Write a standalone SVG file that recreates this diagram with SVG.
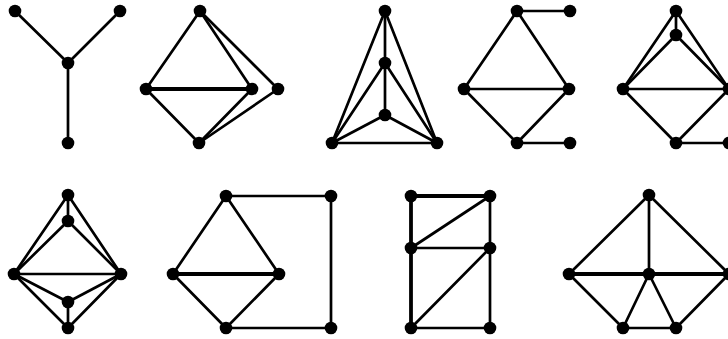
<svg xmlns="http://www.w3.org/2000/svg" width="728" height="339" viewBox="0 0 728 339">
<style>
.e{stroke:#000;stroke-width:2.7;fill:none;stroke-linecap:round}
.t{stroke-width:3.8}
.n circle{fill:#000}
</style>
<rect width="728" height="339" fill="#fff"/>
<g id="connectors">
<!-- g1 -->
<line class="e" x1="15" y1="11" x2="68" y2="63"/>
<line class="e" x1="120" y1="11" x2="68" y2="63"/>
<line class="e" x1="68" y1="63" x2="68" y2="143"/>
<!-- g2 -->
<line class="e" x1="200" y1="11" x2="146" y2="89"/>
<line class="e" x1="200" y1="11" x2="252" y2="89"/>
<line class="e" x1="200" y1="11" x2="278" y2="89"/>
<line class="e t" x1="146" y1="89" x2="252" y2="89"/>
<line class="e" x1="146" y1="89" x2="199" y2="143"/>
<line class="e" x1="252" y1="89" x2="199" y2="143"/>
<line class="e" x1="278" y1="89" x2="199" y2="143"/>
<!-- g3 -->
<line class="e" x1="385" y1="11" x2="332" y2="143"/>
<line class="e" x1="385" y1="11" x2="437" y2="143"/>
<line class="e" x1="385" y1="11" x2="385" y2="63"/>
<line class="e" x1="385" y1="63" x2="385" y2="115"/>
<line class="e" x1="385" y1="63" x2="332" y2="143"/>
<line class="e" x1="385" y1="63" x2="437" y2="143"/>
<line class="e" x1="385" y1="115" x2="332" y2="143"/>
<line class="e" x1="385" y1="115" x2="437" y2="143"/>
<line class="e" x1="332" y1="143" x2="437" y2="143"/>
<!-- g4 -->
<line class="e" x1="517" y1="11" x2="570" y2="11"/>
<line class="e" x1="517" y1="11" x2="464" y2="89"/>
<line class="e" x1="517" y1="11" x2="569" y2="89"/>
<line class="e" x1="464" y1="89" x2="569" y2="89"/>
<line class="e" x1="464" y1="89" x2="517" y2="143"/>
<line class="e" x1="569" y1="89" x2="517" y2="143"/>
<line class="e" x1="517" y1="143" x2="570" y2="143"/>
<!-- g5 -->
<line class="e" x1="676" y1="11" x2="676" y2="35"/>
<line class="e" x1="676" y1="11" x2="623" y2="89"/>
<line class="e" x1="676" y1="11" x2="729" y2="89"/>
<line class="e" x1="676" y1="35" x2="623" y2="89"/>
<line class="e" x1="676" y1="35" x2="729" y2="89"/>
<line class="e" x1="623" y1="89" x2="729" y2="89"/>
<line class="e" x1="623" y1="89" x2="676" y2="143"/>
<line class="e" x1="729" y1="89" x2="676" y2="143"/>
<line class="e" x1="676" y1="143" x2="729" y2="143"/>
<!-- g6 -->
<line class="e" x1="68" y1="195" x2="68" y2="221"/>
<line class="e" x1="68" y1="195" x2="14" y2="274"/>
<line class="e" x1="68" y1="195" x2="121" y2="274"/>
<line class="e" x1="68" y1="221" x2="14" y2="274"/>
<line class="e" x1="68" y1="221" x2="121" y2="274"/>
<line class="e" x1="14" y1="274" x2="121" y2="274"/>
<line class="e" x1="14" y1="274" x2="68" y2="302"/>
<line class="e" x1="121" y1="274" x2="68" y2="302"/>
<line class="e" x1="14" y1="274" x2="68" y2="328"/>
<line class="e" x1="121" y1="274" x2="68" y2="328"/>
<line class="e" x1="68" y1="302" x2="68" y2="328"/>
<!-- g7 -->
<line class="e" x1="226" y1="196" x2="331" y2="196"/>
<line class="e" x1="331" y1="196" x2="331" y2="328"/>
<line class="e" x1="226" y1="328" x2="331" y2="328"/>
<line class="e" x1="226" y1="196" x2="173" y2="274"/>
<line class="e" x1="226" y1="196" x2="279" y2="274"/>
<line class="e t" x1="173" y1="274" x2="279" y2="274"/>
<line class="e" x1="173" y1="274" x2="226" y2="328"/>
<line class="e" x1="279" y1="274" x2="226" y2="328"/>
<!-- g8 -->
<line class="e t" x1="411" y1="196" x2="490" y2="196"/>
<line class="e t" x1="411" y1="196" x2="411" y2="328"/>
<line class="e" x1="490" y1="196" x2="490" y2="328"/>
<line class="e" x1="411" y1="248" x2="490" y2="196"/>
<line class="e" x1="411" y1="248" x2="490" y2="248"/>
<line class="e" x1="411" y1="328" x2="490" y2="248"/>
<line class="e" x1="411" y1="328" x2="490" y2="328"/>
<!-- g9 -->
<line class="e" x1="649" y1="195" x2="569" y2="274"/>
<line class="e" x1="649" y1="195" x2="649" y2="274"/>
<line class="e" x1="649" y1="195" x2="729" y2="274"/>
<line class="e t" x1="569" y1="274" x2="729" y2="274"/>
<line class="e" x1="569" y1="274" x2="623" y2="328"/>
<line class="e" x1="649" y1="274" x2="623" y2="328"/>
<line class="e" x1="649" y1="274" x2="676" y2="328"/>
<line class="e" x1="623" y1="328" x2="676" y2="328"/>
<line class="e" x1="729" y1="274" x2="676" y2="328"/>
</g>
<g id="graph1" class="n"><circle cx="15" cy="11" r="6.3"/><circle cx="120" cy="11" r="6.3"/><circle cx="68" cy="63" r="6.3"/><circle cx="68" cy="143" r="6.3"/></g>
<g id="graph2" class="n"><circle cx="200" cy="11" r="6.3"/><circle cx="146" cy="89" r="6.3"/><circle cx="252" cy="89" r="6.3"/><circle cx="278" cy="89" r="6.3"/><circle cx="199" cy="143" r="6.3"/></g>
<g id="graph3" class="n"><circle cx="385" cy="11" r="6.3"/><circle cx="385" cy="63" r="6.3"/><circle cx="385" cy="115" r="6.3"/><circle cx="332" cy="143" r="6.3"/><circle cx="437" cy="143" r="6.3"/></g>
<g id="graph4" class="n"><circle cx="517" cy="11" r="6.3"/><circle cx="570" cy="11" r="6.3"/><circle cx="464" cy="89" r="6.3"/><circle cx="569" cy="89" r="6.3"/><circle cx="517" cy="143" r="6.3"/><circle cx="570" cy="143" r="6.3"/></g>
<g id="graph5" class="n"><circle cx="676" cy="11" r="6.3"/><circle cx="676" cy="35" r="6.3"/><circle cx="623" cy="89" r="6.3"/><circle cx="729" cy="89" r="6.3"/><circle cx="676" cy="143" r="6.3"/><circle cx="729" cy="143" r="6.3"/></g>
<g id="graph6" class="n"><circle cx="68" cy="195" r="6.3"/><circle cx="68" cy="221" r="6.3"/><circle cx="14" cy="274" r="6.3"/><circle cx="121" cy="274" r="6.3"/><circle cx="68" cy="302" r="6.3"/><circle cx="68" cy="328" r="6.3"/></g>
<g id="graph7" class="n"><circle cx="226" cy="196" r="6.3"/><circle cx="331" cy="196" r="6.3"/><circle cx="173" cy="274" r="6.3"/><circle cx="279" cy="274" r="6.3"/><circle cx="226" cy="328" r="6.3"/><circle cx="331" cy="328" r="6.3"/></g>
<g id="graph8" class="n"><circle cx="411" cy="196" r="6.3"/><circle cx="490" cy="196" r="6.3"/><circle cx="411" cy="248" r="6.3"/><circle cx="490" cy="248" r="6.3"/><circle cx="411" cy="328" r="6.3"/><circle cx="490" cy="328" r="6.3"/></g>
<g id="graph9" class="n"><circle cx="649" cy="195" r="6.3"/><circle cx="569" cy="274" r="6.3"/><circle cx="649" cy="274" r="6.3"/><circle cx="729" cy="274" r="6.3"/><circle cx="623" cy="328" r="6.3"/><circle cx="676" cy="328" r="6.3"/></g>
</svg>
